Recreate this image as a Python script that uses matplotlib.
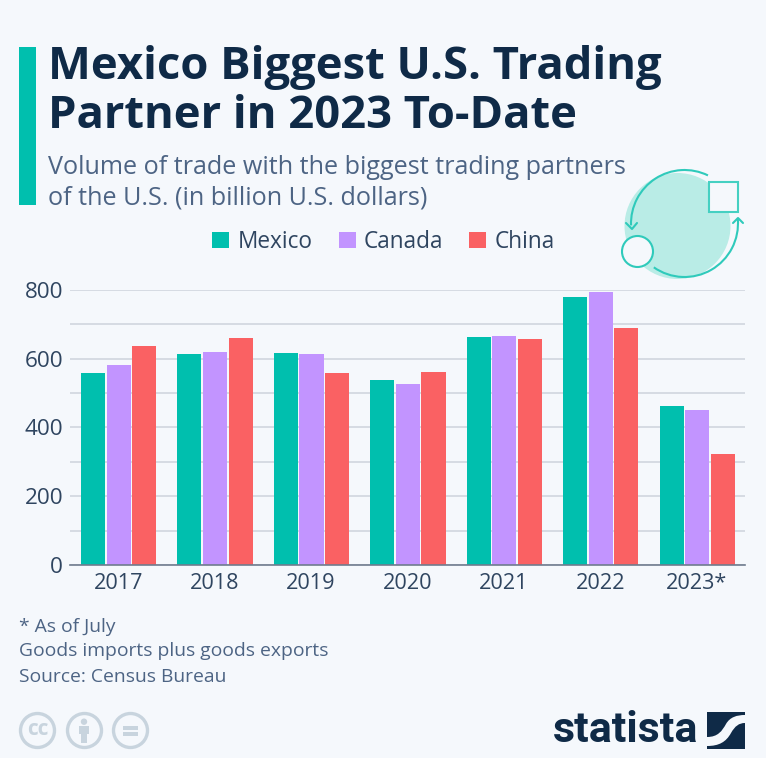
import matplotlib
matplotlib.use("Agg")
import matplotlib.pyplot as plt
from matplotlib.patches import Rectangle, Circle, Arc, PathPatch
from matplotlib.path import Path
import numpy as np

# --- DATA ---
years = ["2017", "2018", "2019", "2020", "2021", "2022", "2023*"]
mexico = [557, 612, 615, 538, 662, 780, 462]
canada = [582, 620, 613, 526, 666, 792, 450]
china = [635, 660, 558, 560, 658, 690, 322]
series_names = ["Mexico", "Canada", "China"]
y_major = [0, 200, 400, 600, 800]
y_minor = [100, 300, 500, 700]

# --- STYLE ---
BG = "#f5f8fc"
TEAL = "#00bfae"
PURPLE = "#c294ff"
RED = "#fa6163"
NAVY = "#0f2a47"
SLATE = "#4d6484"
TICK = "#2f4560"
GRID = "#cdd3dc"
plt.rcParams["font.family"] = ["Open Sans", "DejaVu Sans"]

W, H = 766, 758
fig = plt.figure(figsize=(W / 100, H / 100), dpi=100, facecolor=BG)

# overlay in pixel coords for the header, footer and icons
bg = fig.add_axes([0, 0, 1, 1])
bg.set_xlim(0, W)
bg.set_ylim(H, 0)
bg.axis("off")

# plot area: x 70-745, y 565 (0) - 289.7 (800)
ax = fig.add_axes([70 / W, 1 - 565 / H, 675 / W, 275.3 / H])
ax.patch.set_alpha(0)
ax.set_xlim(-0.5, 6.5)
ax.set_ylim(0, 800)
for s in ["top", "right", "left"]:
    ax.spines[s].set_visible(False)
ax.spines["bottom"].set_color("#6f7c8e")
ax.spines["bottom"].set_linewidth(1.2)
ax.spines["bottom"].set_zorder(5)

x = np.arange(len(years))
step = 0.2656
width = 0.25
for i, (vals, col, name) in enumerate(zip([mexico, canada, china], [TEAL, PURPLE, RED], series_names)):
    ax.bar(x + (i - 1) * step + 0.004, vals, width, color=col, zorder=3, label=name)

ax.set_yticks(y_major)
ax.set_yticks(y_minor, minor=True)
ax.set_xticks(x)
ax.set_xticklabels(years)
ax.tick_params(axis="y", which="both", length=0, pad=5, labelsize=16.2, labelcolor=TICK)
ax.tick_params(axis="x", length=0, pad=5.5, labelsize=15.6, labelcolor=TICK)
ax.grid(axis="y", which="both", color=GRID, linewidth=1.1, zorder=0)
ax.set_axisbelow(True)

# title block
bg.add_patch(Rectangle((19, 47), 17, 158, color=TEAL, lw=0))
bg.text(48, 68, "Mexico Biggest U.S. Trading", fontsize=32.7, fontweight="bold", color=NAVY, va="center", ha="left")
bg.text(48, 117, "Partner in 2023 To-Date", fontsize=32.7, fontweight="bold", color=NAVY, va="center", ha="left")
bg.text(48, 167, "Volume of trade with the biggest trading partners", fontsize=18.1, color=SLATE, va="center", ha="left")
bg.text(48, 198, "of the U.S. (in billion U.S. dollars)", fontsize=18.1, color=SLATE, va="center", ha="left")

# legend
for lx, tx, col, name in zip([212, 339, 469], [238, 364, 495], [TEAL, PURPLE, RED], series_names):
    bg.add_patch(Rectangle((lx, 232), 17, 16, color=col, lw=0))
    bg.text(tx, 242, name, fontsize=16.3, color=TICK, va="center", ha="left")

# trade icon
ICON = "#2fcabb"
bg.add_patch(Circle((677.5, 226), 53, color="#b9ece6", lw=0))
bg.add_patch(Arc((684.5, 223.5), 107, 107, theta1=178, theta2=296, color=ICON, lw=1.5))
bg.add_patch(Arc((684.5, 223.5), 107, 107, theta1=-5, theta2=125, color=ICON, lw=1.5))
bg.plot([626, 632, 637], [223, 229, 223], color=ICON, lw=1.5, solid_capstyle="round")
bg.plot([733, 738, 743], [223, 218, 223], color=ICON, lw=1.5, solid_capstyle="round")
bg.add_patch(Rectangle((708.5, 182), 29, 30, facecolor=BG, edgecolor="#45d0c2", lw=1.5))
bg.add_patch(Circle((637.5, 251.5), 15.5, facecolor=BG, edgecolor=ICON, lw=1.5))

# footer
bg.text(19, 627, "* As of July", fontsize=13.9, color=SLATE, va="center", ha="left")
bg.text(19, 651, "Goods imports plus goods exports", fontsize=13.9, color=SLATE, va="center", ha="left")
bg.text(19, 677, "Source: Census Bureau", fontsize=13.9, color=SLATE, va="center", ha="left")

# cc icons
CC = "#c8d4de"
for cx in [37.5, 84.5, 130.5]:
    bg.add_patch(Circle((cx, 730.5), 17, facecolor="none", edgecolor=CC, lw=2.4))
bg.text(37.5, 729.5, "cc", fontsize=15, fontweight="bold", color=CC, ha="center", va="center")
bg.add_patch(Circle((84, 721.7), 3.2, color=CC, lw=0))
bg.add_patch(Rectangle((79, 726), 10, 8, color=CC, lw=0))
bg.add_patch(Rectangle((81, 733), 6, 10, color=CC, lw=0))
bg.add_patch(Rectangle((123, 726), 15, 4, color=CC, lw=0))
bg.add_patch(Rectangle((123, 732), 15, 4, color=CC, lw=0))

# statista logo
bg.text(553, 731, "statista", fontsize=31, fontweight="bold", color=NAVY, va="center", ha="left",
        family=["Roboto", "DejaVu Sans"])
bg.add_patch(Rectangle((707, 712), 38, 37, color=NAVY, lw=0))
swoosh = Path([(707, 737), (718, 737), (722, 731), (726, 724), (730, 717), (737, 715), (745, 715),
               (745, 723), (739, 723), (735, 726), (731, 733), (726, 742), (719, 746), (707, 746), (707, 737)],
              [Path.MOVETO, Path.CURVE4, Path.CURVE4, Path.CURVE4, Path.CURVE4, Path.CURVE4, Path.CURVE4,
               Path.LINETO, Path.CURVE4, Path.CURVE4, Path.CURVE4, Path.CURVE4, Path.CURVE4, Path.CURVE4, Path.CLOSEPOLY])
bg.add_patch(PathPatch(swoosh, facecolor=BG, lw=0))

fig.savefig("out.png", dpi=100, facecolor=BG)
